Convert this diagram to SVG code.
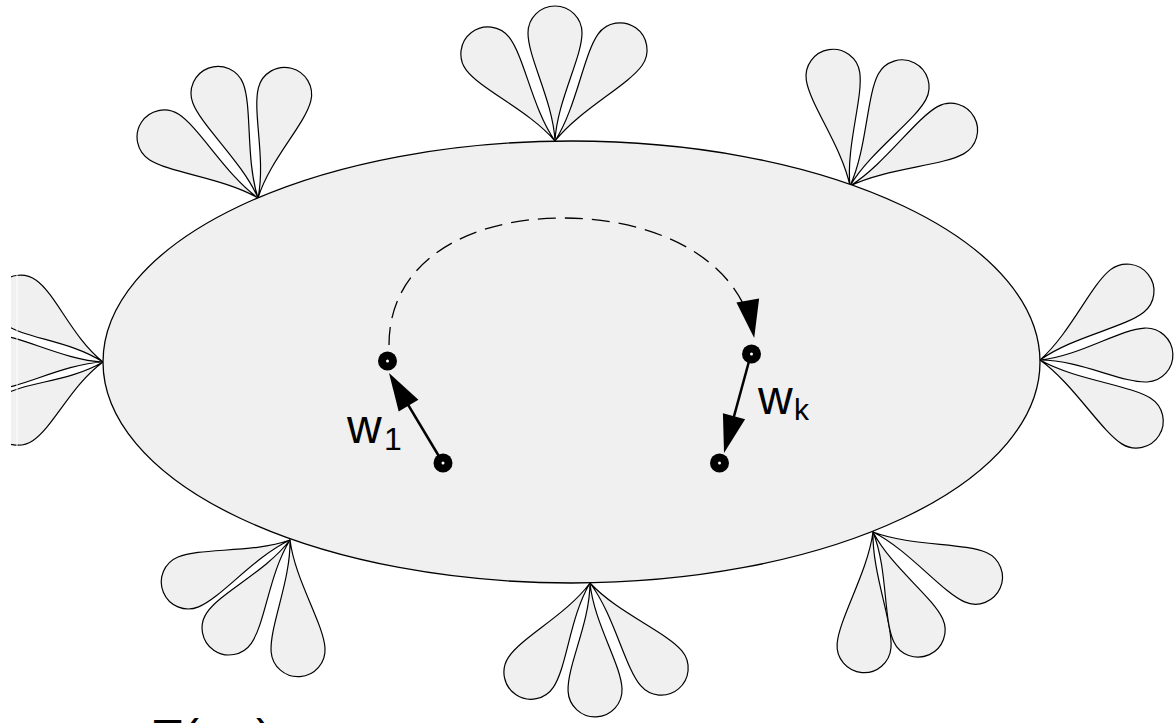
<svg xmlns="http://www.w3.org/2000/svg" xmlns:xlink="http://www.w3.org/1999/xlink" width="1174" height="723" viewBox="0 0 1174 723">
<style>
.pet{fill:#f0f0f0;stroke:#000;stroke-width:1.2;stroke-linejoin:round}
.dot{fill:#000}
.hole{fill:#fff}
.edge{stroke:#000;stroke-width:2.5;fill:none}
.dash{stroke:#000;stroke-width:1.3;fill:none;stroke-dasharray:18 9}
.lbl{font-family:"Liberation Sans",Arial,sans-serif;fill:#000}
</style>
<defs>
<path id="p102" d="M0,0 C2,-40 27,-77 27,-102 A27,27 0 0 0 -27,-102 C-27,-77 -2,-40 0,0Z"/>
<path id="p106" d="M0,0 C2,-40 27,-81 27,-106 A27,27 0 0 0 -27,-106 C-27,-81 -2,-40 0,0Z"/>
<path id="p107" d="M0,0 C2,-40 27,-82 27,-107 A27,27 0 0 0 -27,-107 C-27,-82 -2,-40 0,0Z"/>
<path id="p108" d="M0,0 C2,-40 27,-83 27,-108 A27,27 0 0 0 -27,-108 C-27,-83 -2,-40 0,0Z"/>
<path id="p110" d="M0,0 C2,-40 27,-85 27,-110 A27,27 0 0 0 -27,-110 C-27,-85 -2,-40 0,0Z"/>
<path id="p111" d="M0,0 C2,-40 27,-86 27,-111 A27,27 0 0 0 -27,-111 C-27,-86 -2,-40 0,0Z"/>
<path id="p112" d="M0,0 C2,-40 27,-87 27,-112 A27,27 0 0 0 -27,-112 C-27,-87 -2,-40 0,0Z"/>
<path id="p114" d="M0,0 C2,-40 27,-89 27,-114 A27,27 0 0 0 -27,-114 C-27,-89 -2,-40 0,0Z"/>
<path id="p115" d="M0,0 C2,-40 27,-90 27,-115 A27,27 0 0 0 -27,-115 C-27,-90 -2,-40 0,0Z"/>
<marker id="head" markerUnits="userSpaceOnUse" markerWidth="40" markerHeight="24" refX="32" refY="12" orient="auto" overflow="visible">
<path d="M0,0.5 L38,12 L0,23.5 Z" fill="#000"/>
</marker>
<marker id="headTip" markerUnits="userSpaceOnUse" markerWidth="40" markerHeight="24" refX="37" refY="12" orient="auto" overflow="visible">
<path d="M0,0.5 L38,12 L0,23.5 Z" fill="#000"/>
</marker>
<clipPath id="clipL"><rect x="11" y="0" width="300" height="723"/></clipPath>
</defs>
<rect x="0" y="0" width="1174" height="723" fill="#fff"/>

<g id="petals-tl" class="pet">
<use xlink:href="#p112" transform="translate(258,198) rotate(-57)"/>
<use xlink:href="#p112" transform="translate(258,198) rotate(-20.9)"/>
<use xlink:href="#p107" transform="translate(258,198) rotate(14.4)"/>
</g>
<g id="petals-top" class="pet">
<use xlink:href="#p110" transform="translate(555,141) rotate(-37.6)"/>
<use xlink:href="#p108" transform="translate(555,141) rotate(0)"/>
<use xlink:href="#p112" transform="translate(555,141) rotate(35.5)"/>
</g>
<g id="petals-tr" class="pet">
<use xlink:href="#p111" transform="translate(850,186) rotate(-8.8)"/>
<use xlink:href="#p112" transform="translate(850,186) rotate(27.7)"/>
<use xlink:href="#p115" transform="translate(850,186) rotate(61)"/>
</g>
<g id="petals-r" class="pet">
<use xlink:href="#p111" transform="translate(1040,360) rotate(51.6)"/>
<use xlink:href="#p106" transform="translate(1040,360) rotate(87.3)"/>
<use xlink:href="#p114" transform="translate(1040,360) rotate(122.4)"/>
</g>
<g id="petals-br" class="pet">
<use xlink:href="#p114" transform="translate(873,532) rotate(-175.5)"/>
<use xlink:href="#p108" transform="translate(873,532) rotate(155.3)"/>
<use xlink:href="#p112" transform="translate(873,532) rotate(113.8)"/>
</g>
<g id="petals-b" class="pet">
<use xlink:href="#p107" transform="translate(590,583) rotate(-146.5)"/>
<use xlink:href="#p107" transform="translate(590,583) rotate(177.3)"/>
<use xlink:href="#p111" transform="translate(590,583) rotate(140.1)"/>
</g>
<g id="petals-bl" class="pet">
<use xlink:href="#p110" transform="translate(290,540) rotate(-112.4)"/>
<use xlink:href="#p107" transform="translate(290,540) rotate(-145.3)"/>
<use xlink:href="#p110" transform="translate(290,540) rotate(175.8)"/>
</g>
<g id="petals-l" class="pet" clip-path="url(#clipL)">
<use xlink:href="#p102" transform="translate(103,362) rotate(-54.1)"/>
<use xlink:href="#p108" transform="translate(103,362) rotate(-90)"/>
<use xlink:href="#p102" transform="translate(103,362) rotate(-123.4)"/>
<line x1="17" y1="274" x2="17" y2="447" stroke="#fff" stroke-width="1"/>
</g>

<g id="region">
<ellipse cx="571.5" cy="362" rx="468.5" ry="221" fill="#f0f0f0" stroke="#000" stroke-width="1.3"/>
</g>

<g id="connectors">
<path class="dash" d="M389,345 C389,260 470,218 563,218 C650,218 740,255 754,337" marker-end="url(#headTip)"/>
<path class="edge" d="M443,463 L392.1,378.1" marker-end="url(#head)"/>
<path class="edge" d="M751,354 L725.6,447.2" marker-end="url(#head)"/>
</g>

<g id="node-a"><circle class="dot" cx="387.5" cy="361" r="9.5"/><circle class="hole" cx="387.5" cy="361" r="1.5"/></g>
<g id="node-b"><circle class="dot" cx="443" cy="463" r="9.5"/><circle class="hole" cx="443" cy="463" r="1.5"/></g>
<g id="node-c"><circle class="dot" cx="751.5" cy="354" r="9.5"/><circle class="hole" cx="751.5" cy="354" r="1.5"/></g>
<g id="node-d"><circle class="dot" cx="719.5" cy="463" r="9.5"/><circle class="hole" cx="719.5" cy="463" r="1.5"/></g>

<g id="labels">
<text class="lbl" x="347" y="443" font-size="48">w<tspan x="384" y="450" font-size="32">1</tspan></text>
<text class="lbl" x="758" y="414" font-size="48">w<tspan x="794" y="420" font-size="30">k</tspan></text>
<text class="lbl" x="153" y="752.7" font-size="48">T<tspan x="183">(</tspan><tspan x="204" y="764" font-size="60">Γ</tspan><tspan x="256" y="752.7" font-size="48">)</tspan></text>
</g>
</svg>
